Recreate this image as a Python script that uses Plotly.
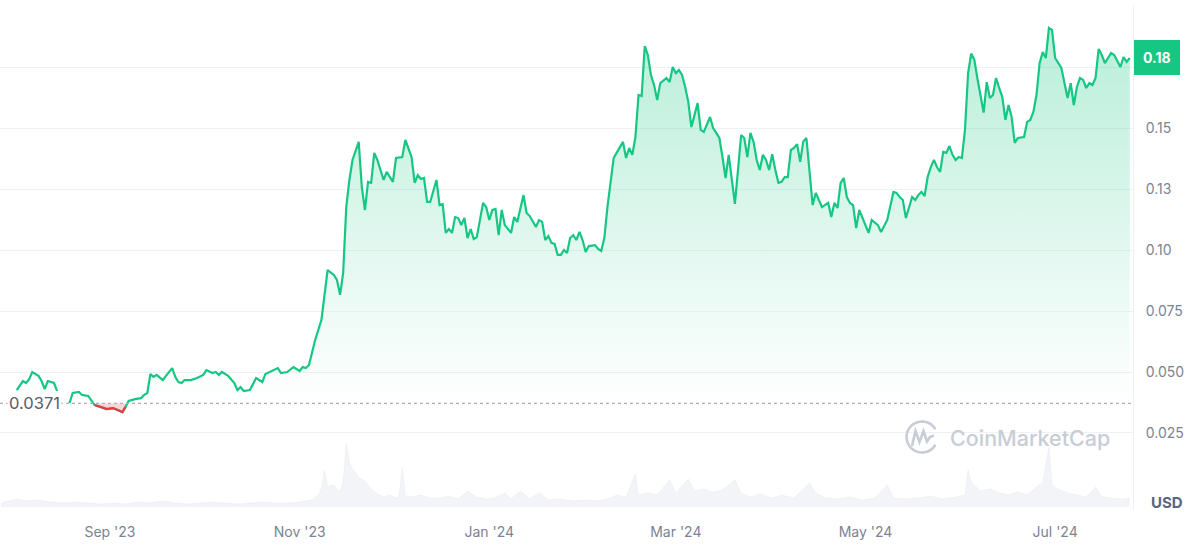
import numpy as np
import plotly.graph_objects as go

# ---------------- data ----------------
dates = [
    "2023-08-02", "2023-08-04", "2023-08-05", "2023-08-06", "2023-08-07", "2023-08-09", "2023-08-10",
    "2023-08-11", "2023-08-12", "2023-08-14", "2023-08-15", "2023-08-17",
    "2023-08-19", "2023-08-20", "2023-08-22", "2023-08-23", "2023-08-25", "2023-08-26", "2023-08-27",
    "2023-08-29", "2023-08-30", "2023-08-31",
    "2023-09-02", "2023-09-04", "2023-09-05", "2023-09-06", "2023-09-07", "2023-09-09", "2023-09-11",
    "2023-09-12", "2023-09-13", "2023-09-14", "2023-09-15", "2023-09-16", "2023-09-18", "2023-09-19",
    "2023-09-21", "2023-09-22", "2023-09-23", "2023-09-24", "2023-09-25", "2023-09-27", "2023-09-29",
    "2023-10-01", "2023-10-02", "2023-10-04", "2023-10-05", "2023-10-06", "2023-10-07", "2023-10-09",
    "2023-10-11", "2023-10-12", "2023-10-13", "2023-10-14", "2023-10-16", "2023-10-18", "2023-10-20",
    "2023-10-21", "2023-10-23", "2023-10-25", "2023-10-26", "2023-10-28", "2023-10-30",
    "2023-11-01", "2023-11-02", "2023-11-03", "2023-11-04", "2023-11-06", "2023-11-08", "2023-11-10",
    "2023-11-12", "2023-11-13", "2023-11-14", "2023-11-15", "2023-11-16", "2023-11-17", "2023-11-18",
    "2023-11-20", "2023-11-21", "2023-11-22", "2023-11-23", "2023-11-24", "2023-11-25", "2023-11-26",
    "2023-11-28", "2023-11-29",
    "2023-12-01", "2023-12-02", "2023-12-04", "2023-12-05", "2023-12-07", "2023-12-08", "2023-12-09",
    "2023-12-10", "2023-12-11", "2023-12-12", "2023-12-13", "2023-12-15", "2023-12-16", "2023-12-17",
    "2023-12-18", "2023-12-19", "2023-12-20", "2023-12-21", "2023-12-22", "2023-12-23", "2023-12-24",
    "2023-12-25", "2023-12-26", "2023-12-27", "2023-12-28", "2023-12-30", "2023-12-31",
    "2024-01-01", "2024-01-02", "2024-01-03", "2024-01-04", "2024-01-05", "2024-01-06", "2024-01-08",
    "2024-01-09", "2024-01-10", "2024-01-12", "2024-01-13", "2024-01-14", "2024-01-16", "2024-01-17",
    "2024-01-18", "2024-01-19", "2024-01-20", "2024-01-21", "2024-01-22", "2024-01-23", "2024-01-24",
    "2024-01-25", "2024-01-26", "2024-01-27", "2024-01-28", "2024-01-29", "2024-01-30", "2024-01-31",
    "2024-02-01", "2024-02-02", "2024-02-04", "2024-02-05", "2024-02-06", "2024-02-07", "2024-02-08",
    "2024-02-10", "2024-02-11", "2024-02-13", "2024-02-14", "2024-02-15", "2024-02-16", "2024-02-17",
    "2024-02-18", "2024-02-19", "2024-02-20", "2024-02-21", "2024-02-22", "2024-02-23", "2024-02-24",
    "2024-02-25", "2024-02-27", "2024-02-28", "2024-02-29",
    "2024-03-01", "2024-03-02", "2024-03-03", "2024-03-04", "2024-03-05", "2024-03-06", "2024-03-08",
    "2024-03-09", "2024-03-10", "2024-03-12", "2024-03-13", "2024-03-14", "2024-03-15", "2024-03-16",
    "2024-03-17", "2024-03-18", "2024-03-19", "2024-03-20", "2024-03-21", "2024-03-22", "2024-03-23",
    "2024-03-24", "2024-03-25", "2024-03-26", "2024-03-27", "2024-03-28", "2024-03-29", "2024-03-30",
    "2024-03-31",
    "2024-04-01", "2024-04-02", "2024-04-03", "2024-04-04", "2024-04-05", "2024-04-06", "2024-04-07",
    "2024-04-08", "2024-04-09", "2024-04-10", "2024-04-11", "2024-04-12", "2024-04-13", "2024-04-14",
    "2024-04-15", "2024-04-16", "2024-04-17", "2024-04-19", "2024-04-20", "2024-04-21", "2024-04-22",
    "2024-04-23", "2024-04-24", "2024-04-25", "2024-04-26", "2024-04-27", "2024-04-28", "2024-04-29",
    "2024-04-30",
    "2024-05-01", "2024-05-02", "2024-05-03", "2024-05-05", "2024-05-06", "2024-05-08", "2024-05-10",
    "2024-05-11", "2024-05-12", "2024-05-13", "2024-05-14", "2024-05-16", "2024-05-17", "2024-05-18",
    "2024-05-19", "2024-05-20", "2024-05-21", "2024-05-22", "2024-05-23", "2024-05-24", "2024-05-25",
    "2024-05-26", "2024-05-27", "2024-05-28", "2024-05-29", "2024-05-30", "2024-05-31",
    "2024-06-01", "2024-06-02", "2024-06-03", "2024-06-04", "2024-06-05", "2024-06-06", "2024-06-08",
    "2024-06-09", "2024-06-10", "2024-06-11", "2024-06-12", "2024-06-13", "2024-06-14", "2024-06-15",
    "2024-06-16", "2024-06-17", "2024-06-18", "2024-06-19", "2024-06-21", "2024-06-22", "2024-06-23",
    "2024-06-24", "2024-06-25", "2024-06-26", "2024-06-27", "2024-06-28", "2024-06-29", "2024-06-30",
    "2024-07-01", "2024-07-03", "2024-07-04", "2024-07-05", "2024-07-06", "2024-07-07", "2024-07-08",
    "2024-07-09", "2024-07-10", "2024-07-11", "2024-07-12", "2024-07-13", "2024-07-14", "2024-07-15",
    "2024-07-16", "2024-07-17", "2024-07-18", "2024-07-19", "2024-07-20", "2024-07-22", "2024-07-23",
    "2024-07-24", "2024-07-25",
]

prices = [
    0.0426, 0.0463, 0.0455, 0.0471, 0.0500, 0.0484, 0.0463,
    0.0430, 0.0463, 0.0455, 0.0422, None,
    0.0373, 0.0414, 0.0418, 0.0406, 0.0402, 0.0381, 0.0365,
    0.0357, 0.0352, 0.0348,
    0.0352, 0.0340, 0.0336, 0.0357, 0.0381, 0.0389, 0.0393,
    0.0406, 0.0414, 0.0492, 0.0480, 0.0488, 0.0467, 0.0484,
    0.0516, 0.0480, 0.0459, 0.0455, 0.0467, 0.0467, 0.0475,
    0.0488, 0.0508, 0.0496, 0.0500, 0.0488, 0.0500, 0.0484,
    0.0455, 0.0426, 0.0438, 0.0422, 0.0426, 0.0475, 0.0459,
    0.0492, 0.0504, 0.0516, 0.0496, 0.0500, 0.0520,
    0.0504, 0.0520, 0.0516, 0.0529, 0.0631, 0.0713, 0.0918,
    0.0898, 0.0877, 0.0816, 0.0906, 0.1176, 0.1287, 0.1369,
    0.1443, 0.1258, 0.1164, 0.1279, 0.1275, 0.1398, 0.1369,
    0.1287, 0.1320,
    0.1279, 0.1377, 0.1381, 0.1451, 0.1381, 0.1275, 0.1307,
    0.1291, 0.1295, 0.1197, 0.1197, 0.1287, 0.1184, 0.1188,
    0.1070, 0.1086, 0.1070, 0.1135, 0.1131, 0.1102, 0.1131,
    0.1049, 0.1086, 0.1045, 0.1053, 0.1193, 0.1176,
    0.1123, 0.1164, 0.1168, 0.1061, 0.1164, 0.1102, 0.1070,
    0.1135, 0.1115, 0.1225, 0.1152, 0.1139, 0.1094, 0.1123,
    0.1115, 0.1041, 0.1057, 0.1029, 0.1025, 0.0980, 0.0980,
    0.1000, 0.0988, 0.1049, 0.1061, 0.1041, 0.1074, 0.1041,
    0.0992, 0.1016, 0.1020, 0.1004, 0.0996, 0.1049, 0.1176,
    0.1377, 0.1398, 0.1443, 0.1377, 0.1418, 0.1390, 0.1463,
    0.1635, 0.1631, 0.1836, 0.1799, 0.1717, 0.1676, 0.1615,
    0.1684, 0.1705, 0.1688, 0.1750,
    0.1725, 0.1738, 0.1717, 0.1668, 0.1607, 0.1504, 0.1602,
    0.1492, 0.1484, 0.1545, 0.1500, 0.1480, 0.1459, 0.1381,
    0.1295, 0.1390, 0.1299, 0.1189, 0.1328, 0.1471, 0.1459,
    0.1381, 0.1480, 0.1443, 0.1369, 0.1328, 0.1390, 0.1369,
    0.1328,
    0.1393, 0.1328, 0.1275, 0.1279, 0.1299, 0.1299, 0.1410,
    0.1418, 0.1434, 0.1361, 0.1445, 0.1459, 0.1316, 0.1184,
    0.1234, 0.1205, 0.1176, 0.1193, 0.1135, 0.1193, 0.1172,
    0.1275, 0.1295, 0.1217, 0.1193, 0.1184, 0.1090, 0.1164,
    0.1131,
    0.1098, 0.1070, 0.1123, 0.1102, 0.1074, 0.1123, 0.1238,
    0.1234, 0.1217, 0.1205, 0.1131, 0.1217, 0.1205, 0.1225,
    0.1238, 0.1221, 0.1299, 0.1340, 0.1369, 0.1340, 0.1320,
    0.1402, 0.1398, 0.1426, 0.1390, 0.1369, 0.1381,
    0.1377, 0.1492, 0.1725, 0.1805, 0.1780, 0.1703, 0.1563,
    0.1688, 0.1623, 0.1635, 0.1705, 0.1664, 0.1627, 0.1533,
    0.1594, 0.1545, 0.1439, 0.1459, 0.1463, 0.1525, 0.1533,
    0.1566, 0.1635, 0.1766, 0.1811, 0.1787, 0.1910, 0.1902,
    0.1787, 0.1746, 0.1688, 0.1623, 0.1684, 0.1594, 0.1668,
    0.1705, 0.1697, 0.1664, 0.1684, 0.1676, 0.1705, 0.1824,
    0.1799, 0.1766, 0.1787, 0.1807, 0.1799, 0.1750, 0.1791,
    0.1771, 0.1787,
]

vol_dates = [
    "2023-07-28", "2023-08-02", "2023-08-05", "2023-08-09", "2023-08-13", "2023-08-17", "2023-08-21",
    "2023-08-25", "2023-08-29", "2023-09-02", "2023-09-06", "2023-09-10", "2023-09-14", "2023-09-18",
    "2023-09-22", "2023-09-26", "2023-09-30", "2023-10-04", "2023-10-08", "2023-10-12", "2023-10-16",
    "2023-10-20", "2023-10-24", "2023-10-28", "2023-11-01", "2023-11-05", "2023-11-07", "2023-11-08",
    "2023-11-09", "2023-11-10", "2023-11-12", "2023-11-14", "2023-11-15", "2023-11-16", "2023-11-17",
    "2023-11-18", "2023-11-20", "2023-11-22", "2023-11-24", "2023-11-26", "2023-11-28", "2023-11-30",
    "2023-12-02", "2023-12-03", "2023-12-04", "2023-12-05", "2023-12-07", "2023-12-10", "2023-12-13",
    "2023-12-16", "2023-12-19", "2023-12-22", "2023-12-25", "2023-12-28", "2023-12-31", "2024-01-03",
    "2024-01-06", "2024-01-08", "2024-01-11", "2024-01-14", "2024-01-17", "2024-01-20", "2024-01-24",
    "2024-01-28", "2024-02-01", "2024-02-05", "2024-02-09", "2024-02-11", "2024-02-14", "2024-02-17",
    "2024-02-18", "2024-02-21", "2024-02-24", "2024-02-28", "2024-03-01", "2024-03-05", "2024-03-07",
    "2024-03-10", "2024-03-13", "2024-03-16", "2024-03-20", "2024-03-22", "2024-03-25", "2024-03-28",
    "2024-04-01", "2024-04-04", "2024-04-08", "2024-04-13", "2024-04-15", "2024-04-18", "2024-04-22",
    "2024-04-26", "2024-04-30", "2024-05-04", "2024-05-08", "2024-05-10", "2024-05-14", "2024-05-18",
    "2024-05-22", "2024-05-26", "2024-05-30", "2024-06-02", "2024-06-03", "2024-06-04", "2024-06-07",
    "2024-06-10", "2024-06-13", "2024-06-16", "2024-06-19", "2024-06-22", "2024-06-25", "2024-06-27",
    "2024-06-29", "2024-06-30", "2024-07-02", "2024-07-05", "2024-07-08", "2024-07-11", "2024-07-14",
    "2024-07-16", "2024-07-19", "2024-07-22", "2024-07-25",
]

vol_values = [  # millions USD (approximate)
    4, 8, 6, 7, 5, 4, 5,
    4, 3, 4, 3, 5, 4, 6,
    4, 3, 4, 5, 4, 3, 4,
    5, 4, 4, 5, 7, 12, 18,
    37, 20, 22, 15, 25, 63, 45,
    38, 30, 26, 18, 13, 10, 12,
    9, 12, 39, 11, 10, 12, 9,
    9, 11, 8, 16, 10, 8, 9,
    14, 8, 16, 8, 14, 7, 8,
    6, 7, 6, 9, 12, 10, 33,
    12, 14, 12, 27, 14, 28, 16,
    18, 15, 17, 27, 14, 10, 13,
    9, 12, 9, 24, 14, 9, 8,
    10, 7, 9, 22, 9, 8, 9,
    11, 8, 10, 12, 37, 25, 16,
    18, 14, 12, 15, 12, 20, 24,
    60, 22, 18, 14, 12, 10, 20,
    10, 9, 8, 9,
]

baseline = 0.0371
last_label = "0.18"
y_tickvals = [0.025, 0.05, 0.075, 0.10, 0.125, 0.15, 0.175, 0.2]
y_ticktext = ["0.025", "0.050", "0.075", "0.10", "0.13", "0.15", "", ""]
x_tickvals = ["2023-09-01", "2023-11-01", "2024-01-01", "2024-03-01", "2024-05-01", "2024-07-01"]
x_ticktext = ["Sep '23", "Nov '23", "Jan '24", "Mar '24", "May '24", "Jul '24"]

# ---------------- styling ----------------
GREEN = "#16c784"
RED = "#ea3943"
TXT = "#7b8394"
GRID = "#eff2f5"
WM = "#c8cdd5"
FONT = "Inter"

W, H = 1200, 550
ML, MR, MT, MB = 0, 67, 6, 40
PW, PH = W - ML - MR, H - MT - MB

p = np.array([np.nan if v is None else v for v in prices], dtype=float)
base_arr = np.where(np.isnan(p), np.nan, baseline)
up = np.maximum(p, baseline)
down = np.minimum(p, baseline)
red_line = np.where(p < baseline, p, np.nan)

fig = go.Figure()

# volume
fig.add_trace(go.Scatter(
    x=vol_dates, y=vol_values, yaxis="y2", mode="lines", fill="tozeroy",
    line=dict(width=0.6, color="rgba(215,220,228,0.45)"),
    fillcolor="rgba(220,224,231,0.35)", hoverinfo="skip", showlegend=False))

# green area (above baseline)
fig.add_trace(go.Scatter(x=dates, y=base_arr, mode="lines", line=dict(width=0),
                         hoverinfo="skip", showlegend=False))
fig.add_trace(go.Scatter(
    x=dates, y=up, mode="none", fill="tonexty",
    fillgradient=dict(type="vertical", start=baseline, stop=0.19,
                      colorscale=[[0, "rgba(22,199,132,0.0)"], [1, "rgba(22,199,132,0.30)"]]),
    hoverinfo="skip", showlegend=False))

# red area (below baseline)
fig.add_trace(go.Scatter(x=dates, y=base_arr, mode="lines", line=dict(width=0),
                         hoverinfo="skip", showlegend=False))
fig.add_trace(go.Scatter(x=dates, y=down, mode="none", fill="tonexty",
                         fillcolor="rgba(234,57,67,0.22)", hoverinfo="skip", showlegend=False))

# lines
fig.add_trace(go.Scatter(x=dates, y=p, mode="lines", line=dict(color=GREEN, width=2.2),
                         connectgaps=False, showlegend=False))
fig.add_trace(go.Scatter(x=dates, y=red_line, mode="lines", line=dict(color=RED, width=2.2),
                         connectgaps=False, showlegend=False))


def px2paper(x, y):
    return (x - ML) / PW, (H - MB - y) / PH


# watermark logo (circle with opening + M wave)
cx, cy, r = 922, 437, 15.5
arc = []
for a in np.linspace(np.radians(30), np.radians(330), 40):
    arc.append(px2paper(cx + r * np.cos(a), cy - r * np.sin(a)))
arc_path = "M " + " L ".join(f"{u:.5f},{v:.5f}" for u, v in arc)
m_pts = [(912, 446), (915.5, 431), (919.5, 442), (923.5, 431), (927, 441.5), (930, 437), (934, 435.5)]
m_path = "M " + " L ".join("{:.5f},{:.5f}".format(*px2paper(a, b)) for a, b in m_pts)

shapes = [
    dict(type="line", xref="paper", yref="y", x0=0, x1=1, y0=baseline, y1=baseline,
         line=dict(color="#a9b0bc", width=1.3, dash="dot"), layer="above"),
    dict(type="path", xref="paper", yref="paper", path=arc_path,
         line=dict(color=WM, width=2.6)),
    dict(type="path", xref="paper", yref="paper", path=m_path,
         line=dict(color=WM, width=2.6)),
]

wx, wy = px2paper(948, 438)
usd_x, usd_y = px2paper(1150, 502)
annotations = [
    dict(text="0.0371", xref="paper", yref="y", x=0, y=baseline, xanchor="left", yanchor="middle",
         xshift=7, showarrow=False, bgcolor="white", borderpad=1,
         font=dict(family=FONT, size=16.5, color="#555d6b")),
    dict(text=f"<b>{last_label}</b>", xref="paper", yref="y", x=1, y=p[-1], xanchor="left",
         yanchor="middle", xshift=1, showarrow=False, bgcolor=GREEN, bordercolor=GREEN,
         borderwidth=1, borderpad=8, font=dict(family=FONT, size=14, color="white")),
    dict(text="<b>USD</b>", xref="paper", yref="paper", x=1, y=usd_y, xanchor="left",
         yanchor="middle", xshift=16, showarrow=False,
         font=dict(family=FONT, size=15, color="#58667e")),
    dict(text="CoinMarketCap", xref="paper", yref="paper", x=wx, y=wy, xanchor="left",
         yanchor="middle", showarrow=False,
         font=dict(family=FONT, size=21.5, color=WM, weight=500)),
]

fig.update_layout(
    width=W, height=H,
    margin=dict(l=ML, r=MR, t=MT, b=MB),
    paper_bgcolor="white", plot_bgcolor="white",
    showlegend=False, hovermode=False,
    font=dict(family=FONT, color=TXT, size=14),
    xaxis=dict(type="date", range=["2023-07-27 15:00", "2024-07-26 01:00"],
               tickvals=x_tickvals, ticktext=x_ticktext, showgrid=False, zeroline=False,
               showline=False, ticks="", ticklabelstandoff=12,
               tickfont=dict(family=FONT, size=14, color=TXT)),
    yaxis=dict(side="right", range=[-0.00656, 0.2], tickvals=y_tickvals, ticktext=y_ticktext,
               showgrid=True, gridcolor=GRID, gridwidth=1, zeroline=False,
               showline=True, linecolor=GRID, linewidth=1, ticks="", ticklabelstandoff=9,
               tickfont=dict(family=FONT, size=14, color=TXT)),
    yaxis2=dict(overlaying="y", range=[-3, 501], visible=False, fixedrange=True),
    shapes=shapes,
    annotations=annotations,
)

fig.write_html(
    "out.html",
    config={"displayModeBar": False, "staticPlot": True},
    post_script="document.body.style.margin='0';document.body.style.overflow='hidden';",
)
